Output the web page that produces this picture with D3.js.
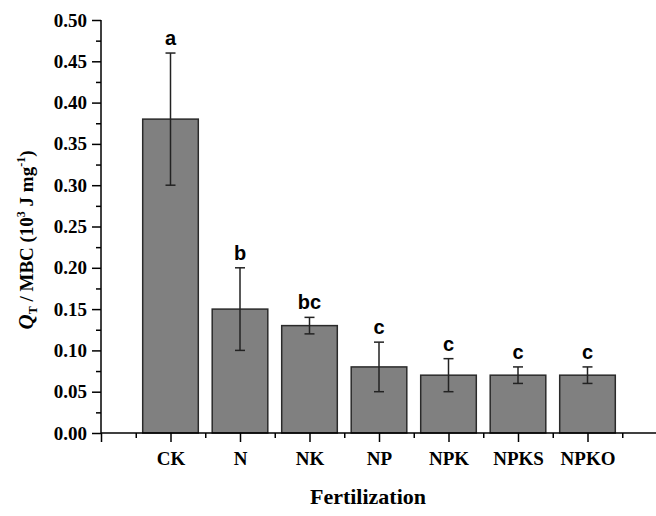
<!DOCTYPE html>
<html>
<head>
<meta charset="utf-8">
<script src="https://cdn.jsdelivr.net/npm/d3@7"></script>
<style>
  body { margin: 0; background: #fff; }
  text { font-family: "Liberation Serif", "Times New Roman", serif; font-weight: bold; }
  .letter { font-family: "Liberation Sans", Arial, sans-serif; }
</style>
</head>
<body>
<div id="chart"></div>
<script>
// treatments, means, error bars and significance letters
var categories = ["CK", "N", "NK", "NP", "NPK", "NPKS", "NPKO"];
var values = [0.38, 0.15, 0.13, 0.08, 0.07, 0.07, 0.07];
var errLow = [0.30, 0.10, 0.12, 0.05, 0.05, 0.06, 0.06];
var errHigh = [0.46, 0.20, 0.14, 0.11, 0.09, 0.08, 0.08];
var letters = ["a", "b", "bc", "c", "c", "c", "c"];
var yTicks = [0, 0.05, 0.10, 0.15, 0.20, 0.25, 0.30, 0.35, 0.40, 0.45, 0.50];

var width = 656;
var height = 516;

var svg = d3.select("#chart")
  .append("svg")
  .attr("width", width)
  .attr("height", height);

// x is a numeric position 1..7, axis runs 0..8
var xScale = d3.scaleLinear().domain([0, 8]).range([101, 657]);
var yScale = d3.scaleLinear().domain([0, 0.5]).range([433, 20]);
var step = xScale(1) - xScale(0);
var barW = step * 0.8;

var data = categories.map(function(c, i) {
  return { cat: c, pos: i + 1, value: values[i], lo: errLow[i], hi: errHigh[i], letter: letters[i] };
});

// bars
svg.selectAll(".bar")
  .data(data)
  .enter()
  .append("rect")
  .attr("class", "bar")
  .attr("x", function(d) { return xScale(d.pos) - barW / 2; })
  .attr("y", function(d) { return yScale(d.value); })
  .attr("width", barW)
  .attr("height", function(d) { return yScale(0) - yScale(d.value); })
  .attr("fill", "#808080")
  .attr("stroke", "#2a2a2a")
  .attr("stroke-width", 1.5);

// error bars
var eb = svg.selectAll(".err")
  .data(data)
  .enter()
  .append("g")
  .attr("class", "err")
  .attr("stroke", "#222")
  .attr("stroke-width", 1.5);

eb.append("line")
  .attr("x1", function(d) { return xScale(d.pos); })
  .attr("x2", function(d) { return xScale(d.pos); })
  .attr("y1", function(d) { return yScale(d.lo); })
  .attr("y2", function(d) { return yScale(d.hi); });
eb.append("line")
  .attr("x1", function(d) { return xScale(d.pos) - 5; })
  .attr("x2", function(d) { return xScale(d.pos) + 5; })
  .attr("y1", function(d) { return yScale(d.hi); })
  .attr("y2", function(d) { return yScale(d.hi); });
eb.append("line")
  .attr("x1", function(d) { return xScale(d.pos) - 5; })
  .attr("x2", function(d) { return xScale(d.pos) + 5; })
  .attr("y1", function(d) { return yScale(d.lo); })
  .attr("y2", function(d) { return yScale(d.lo); });

// letters
svg.selectAll(".letter")
  .data(data)
  .enter()
  .append("text")
  .attr("class", "letter")
  .attr("x", function(d) { return xScale(d.pos); })
  .attr("y", function(d) { return yScale(d.hi) - 8; })
  .attr("text-anchor", "middle")
  .attr("font-size", 20)
  .text(function(d) { return d.letter; });

// y axis (major + minor)
var yMinor = d3.range(0.025, 0.5, 0.05);
svg.append("g")
  .attr("transform", "translate(101,0)")
  .call(d3.axisLeft(yScale).tickValues(yMinor).tickSize(5).tickFormat(""))
  .call(function(g) { g.select(".domain").remove(); })
  .selectAll("line").attr("stroke-width", 1.5);

var yAxis = svg.append("g")
  .attr("transform", "translate(101,0)")
  .call(d3.axisLeft(yScale).tickValues(yTicks).tickSize(9).tickPadding(5)
    .tickFormat(d3.format(".2f")));
yAxis.select(".domain").attr("stroke-width", 1.5).attr("d", "M0," + yScale(0.5) + "V" + yScale(0));
yAxis.selectAll("line").attr("stroke-width", 1.5);
yAxis.selectAll("text")
  .attr("font-size", 19)
  .attr("fill", "#000")
  .style("font-family", "'Liberation Serif', serif")
  .style("font-weight", "bold");

// x axis
var xMinor = d3.range(0.5, 8, 1);
svg.append("g")
  .attr("transform", "translate(0," + yScale(0) + ")")
  .call(d3.axisBottom(xScale).tickValues(xMinor).tickSize(5).tickFormat(""))
  .call(function(g) { g.select(".domain").remove(); })
  .selectAll("line").attr("stroke-width", 1.5);

var xAxis = svg.append("g")
  .attr("transform", "translate(0," + yScale(0) + ")")
  .call(d3.axisBottom(xScale).tickValues([0, 1, 2, 3, 4, 5, 6, 7, 8]).tickSize(9).tickPadding(10)
    .tickFormat(function(d) { return categories[d - 1] || ""; }));
xAxis.select(".domain").attr("stroke-width", 1.5).attr("d", "M" + xScale(0) + ",0H" + xScale(8));
xAxis.selectAll("line").attr("stroke-width", 1.5);
xAxis.selectAll("text")
  .attr("font-size", 19)
  .attr("fill", "#000")
  .style("font-family", "'Liberation Serif', serif")
  .style("font-weight", "bold");

// axis titles
svg.append("text")
  .attr("x", 368)
  .attr("y", 504)
  .attr("text-anchor", "middle")
  .attr("font-size", 22)
  .text("Fertilization");

var yTitle = svg.append("text")
  .attr("transform", "translate(33,240) rotate(-90)")
  .attr("text-anchor", "middle")
  .attr("font-size", 19);
yTitle.append("tspan").style("font-style", "italic").attr("font-size", 21).text("Q");
yTitle.append("tspan").attr("font-size", 12).attr("dy", 4).text("T");
yTitle.append("tspan").attr("dy", -4).text(" / MBC (10");
yTitle.append("tspan").attr("font-size", 12).attr("dy", -8).text("3");
yTitle.append("tspan").attr("dy", 8).text(" J mg");
yTitle.append("tspan").attr("font-size", 12).attr("dy", -8).text("-1");
yTitle.append("tspan").attr("dy", 8).text(")");
</script>
</body>
</html>
